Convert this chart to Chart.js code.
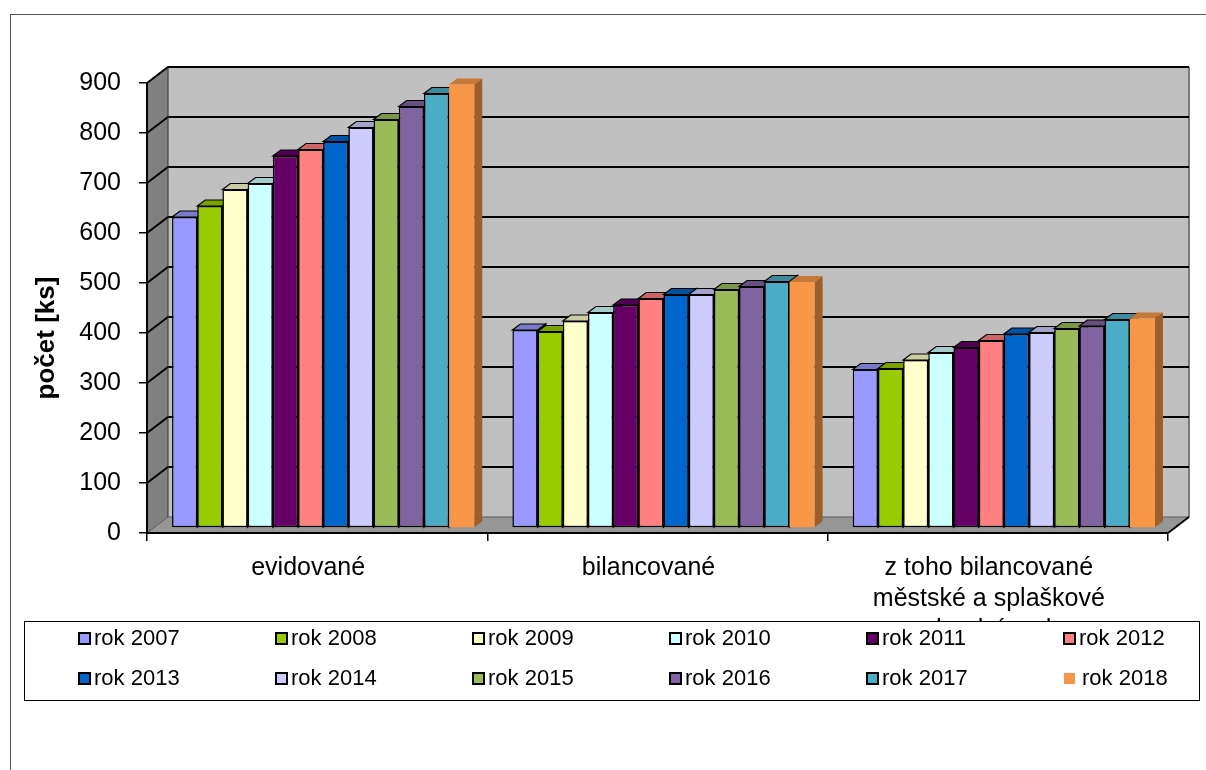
<!DOCTYPE html>
<html lang="cs">
<head>
<meta charset="UTF-8">
<title>Počet ČOV</title>
<script src="https://cdn.jsdelivr.net/npm/chart.js"></script>
<style>
  html, body { margin: 0; padding: 0; background: #fff; }
</style>
</head>
<body>
<canvas id="chart" width="1206" height="770"></canvas>
<script>
// categories and values
const categories = ['evidované', 'bilancované', ['z toho bilancované', 'městské a splaškové', 'odpadní vody']];
const years = ['rok 2007', 'rok 2008', 'rok 2009', 'rok 2010', 'rok 2011', 'rok 2012',
               'rok 2013', 'rok 2014', 'rok 2015', 'rok 2016', 'rok 2017', 'rok 2018'];
const evidovane  = [622, 644, 677, 689, 744, 757, 773, 801, 817, 843, 869, 887];
const bilancovane = [396, 393, 414, 431, 446, 459, 467, 467, 477, 483, 493, 492];
const mestske    = [317, 319, 336, 351, 361, 375, 388, 391, 399, 404, 417, 419];
const yMax = 900;
const yStep = 100;

const colors = ['#9999FF', '#99CC00', '#FFFFCC', '#CCFFFF', '#660066', '#FF8080',
                '#0066CC', '#CCCCFF', '#9BBB59', '#8064A2', '#4BACC6', '#F79646'];
const FONT = '"Liberation Sans", Arial, sans-serif';

// 3d offsets
const WALL = { dx: 21, dy: -16 };
const SHIFT = { dx: 6, dy: -5 };
const BAR = { dx: 8, dy: -6 };

function shade(hex, f) {
  const n = parseInt(hex.slice(1), 16);
  const r = Math.round(((n >> 16) & 255) * f);
  const g = Math.round(((n >> 8) & 255) * f);
  const b = Math.round((n & 255) * f);
  return `rgb(${r},${g},${b})`;
}

function poly(ctx, pts) {
  ctx.beginPath();
  ctx.moveTo(pts[0][0], pts[0][1]);
  for (let i = 1; i < pts.length; i++) ctx.lineTo(pts[i][0], pts[i][1]);
  ctx.closePath();
}

const datasets = years.map((label, i) => ({
  label: label,
  data: [evidovane[i], bilancovane[i], mestske[i]],
  backgroundColor: colors[i],
  borderColor: '#000',
  borderWidth: i === years.length - 1 ? 0 : 1.5,
  borderSkipped: false,
  clip: false
}));

const box3d = {
  id: 'box3d',
  beforeDraw(chart) {
    const { ctx, chartArea: a, scales: { y } } = chart;
    ctx.save();
    ctx.fillStyle = '#fff';
    ctx.fillRect(0, 0, chart.width, chart.height);
    const L = a.left, R = a.right, T = a.top, B = a.bottom;
    // back wall
    ctx.fillStyle = '#C0C0C0';
    ctx.fillRect(L + WALL.dx, T + WALL.dy, R - L, B - T);
    // left wall
    ctx.fillStyle = '#808080';
    poly(ctx, [[L, T], [L + WALL.dx, T + WALL.dy], [L + WALL.dx, B + WALL.dy], [L, B]]);
    ctx.fill();
    // floor
    ctx.fillStyle = '#969696';
    poly(ctx, [[L, B], [L + WALL.dx, B + WALL.dy], [R + WALL.dx, B + WALL.dy], [R, B]]);
    ctx.fill();
    // right edge of back wall
    ctx.strokeStyle = '#7a7a7a';
    ctx.lineWidth = 2;
    ctx.beginPath();
    ctx.moveTo(R + WALL.dx, T + WALL.dy);
    ctx.lineTo(R + WALL.dx, B + WALL.dy);
    ctx.stroke();
    // gridlines on walls
    y.ticks.forEach(t => {
      const py = y.getPixelForValue(t.value);
      ctx.strokeStyle = t.value === 0 ? '#5a5a5a' : '#000';
      ctx.lineWidth = t.value === 0 ? 1 : 2;
      ctx.beginPath();
      ctx.moveTo(L, py);
      ctx.lineTo(L + WALL.dx, py + WALL.dy);
      ctx.lineTo(R + WALL.dx, py + WALL.dy);
      ctx.stroke();
    });
    // back edge of left wall
    ctx.strokeStyle = '#333';
    ctx.lineWidth = 1;
    ctx.beginPath();
    ctx.moveTo(L + WALL.dx, T + WALL.dy);
    ctx.lineTo(L + WALL.dx, B + WALL.dy);
    ctx.stroke();
    // right front edge of floor
    ctx.strokeStyle = '#000';
    ctx.lineWidth = 2;
    ctx.beginPath();
    ctx.moveTo(R, B);
    ctx.lineTo(R + WALL.dx, B + WALL.dy);
    ctx.stroke();
    ctx.restore();
  },
  beforeDatasetsDraw(chart) {
    const ctx = chart.ctx;
    ctx.save();
    ctx.translate(SHIFT.dx, SHIFT.dy);
    // side and top faces, left to right; the front faces come on top afterwards
    const n = chart.data.labels.length;
    for (let c = 0; c < n; c++) {
      chart.data.datasets.forEach((ds, i) => {
        const el = chart.getDatasetMeta(i).data[c];
        if (!el) return;
        const col = ds.backgroundColor;
        const x0 = el.x - el.width / 2, x1 = el.x + el.width / 2;
        const top = el.y, base = el.base;
        poly(ctx, [[x1, top], [x1 + BAR.dx, top + BAR.dy], [x1 + BAR.dx, base + BAR.dy], [x1, base]]);
        ctx.fillStyle = shade(col, 0.63);
        ctx.fill();
        if (ds.borderWidth) { ctx.strokeStyle = '#000'; ctx.lineWidth = 1.2; ctx.stroke(); }
        poly(ctx, [[x0, top], [x0 + BAR.dx, top + BAR.dy], [x1 + BAR.dx, top + BAR.dy], [x1, top]]);
        ctx.fillStyle = shade(col, 0.8);
        ctx.fill();
        if (ds.borderWidth) { ctx.strokeStyle = '#000'; ctx.lineWidth = 1.2; ctx.stroke(); }
      });
    }
  },
  afterDatasetsDraw(chart) {
    chart.ctx.restore();
  },
  afterDraw(chart) {
    const ctx = chart.ctx;
    ctx.save();
    // y axis title
    ctx.save();
    ctx.translate(47, 338);
    ctx.rotate(-Math.PI / 2);
    ctx.fillStyle = '#000';
    ctx.font = 'bold 26px ' + FONT;
    ctx.textAlign = 'center';
    ctx.textBaseline = 'middle';
    ctx.fillText('počet [ks]', 0, 0);
    ctx.restore();
    // legend
    ctx.fillStyle = '#fff';
    ctx.fillRect(24, 621, 1175, 79);
    ctx.strokeStyle = '#000';
    ctx.lineWidth = 1;
    ctx.strokeRect(24.5, 621.5, 1175, 79);
    ctx.font = '22px ' + FONT;
    ctx.textBaseline = 'middle';
    ctx.textAlign = 'left';
    chart.data.datasets.forEach((ds, i) => {
      const col = i % 6, row = Math.floor(i / 6);
      const tx = 94 + col * 197;
      const ty = row === 0 ? 639 : 679;
      ctx.fillStyle = ds.backgroundColor;
      ctx.fillRect(tx - 15, ty - 6, 11, 11);
      if (ds.borderWidth) {
        ctx.strokeStyle = '#000';
        ctx.lineWidth = 2;
        ctx.strokeRect(tx - 15, ty - 6, 11, 11);
      }
      ctx.fillStyle = '#000';
      ctx.fillText(ds.label, tx + (ds.borderWidth ? 0 : 3), ty);
    });
    // outer frame
    ctx.strokeStyle = '#555';
    ctx.lineWidth = 1;
    ctx.strokeRect(10.5, 14.5, 1400, 900);
    ctx.restore();
  }
};

new Chart(document.getElementById('chart'), {
  type: 'bar',
  data: { labels: categories, datasets: datasets },
  options: {
    responsive: false,
    animation: false,
    events: [],
    categoryPercentage: 0.888,
    barPercentage: 1.0,
    layout: { padding: { left: 0, top: 83, right: 38, bottom: 0 } },
    plugins: { legend: { display: false }, tooltip: { enabled: false } },
    scales: {
      x: {
        offset: true,
        grid: { drawOnChartArea: false, drawTicks: true, tickLength: 8, color: '#000', lineWidth: 1.5, offset: true },
        border: { color: '#000', width: 2 },
        ticks: { color: '#000', font: { family: FONT, size: 25, lineHeight: 1.24 }, padding: 12,
                 labelOffset: -9, maxRotation: 0, autoSkip: false },
        afterFit(s) { s.height = 237; }
      },
      y: {
        min: 0,
        max: yMax,
        grid: { drawOnChartArea: false, drawTicks: true, tickLength: 8, color: '#000', lineWidth: 1.5 },
        border: { color: '#000', width: 2 },
        ticks: { stepSize: yStep, color: '#000', font: { family: FONT, size: 25 }, padding: 18 },
        afterFit(s) { s.width = 147; }
      }
    }
  },
  plugins: [box3d]
});
</script>
</body>
</html>
